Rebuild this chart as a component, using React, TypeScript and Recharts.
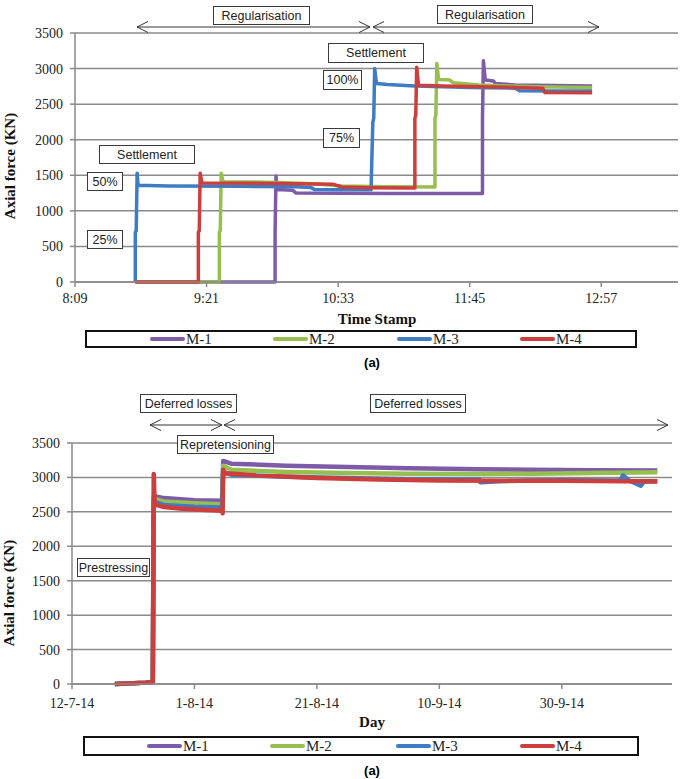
import { LineChart, Line, XAxis, YAxis, CartesianGrid } from "recharts";

const seriesNames = ["M-1", "M-2", "M-3", "M-4"];
const seriesColors = ["#7E5BA8", "#97BF4F", "#3E7DC6", "#CC3F3C"];

// top chart: [time stamp, axial force kN]
const m1Time: [string, number][] = [
  ["8:42", 0], ["9:58.5", 0], ["9:58.5", 700], ["9:59", 1490], ["9:59.5", 1300], ["10:08", 1290],
  ["10:10", 1250], ["11:00", 1245], ["11:52", 1245], ["11:52", 2300], ["11:52.5", 3110],
  ["11:53.5", 2840], ["11:58", 2825], ["11:59", 2790], ["12:10", 2770], ["12:52", 2755],
];
const m2Time: [string, number][] = [
  ["8:42", 0], ["9:28", 0], ["9:28", 700], ["9:28.5", 720], ["9:29", 1530], ["9:30", 1410],
  ["10:00", 1400], ["10:20", 1380], ["10:35", 1350], ["11:00", 1340], ["11:26", 1335],
  ["11:26", 2300], ["11:26.5", 2350], ["11:27", 3070], ["11:28", 2845], ["11:34", 2840],
  ["11:36", 2800], ["11:50", 2770], ["12:20", 2745], ["12:52", 2735],
];
const m3Time: [string, number][] = [
  ["8:42", 0], ["8:42", 700], ["8:42.5", 720], ["8:43", 1530], ["8:43.5", 1360], ["9:00", 1350],
  ["9:40", 1345], ["10:10", 1340], ["10:18", 1330], ["10:20", 1300], ["10:51", 1295],
  ["10:52", 2250], ["10:52.5", 2300], ["10:53", 3000], ["10:54", 2790], ["11:00", 2775],
  ["11:15", 2755], ["11:45", 2735], ["12:10", 2725], ["12:12", 2690], ["12:30", 2685], ["12:52", 2685],
];
const m4Time: [string, number][] = [
  ["8:42", 0], ["9:16.5", 0], ["9:16.5", 700], ["9:17", 720], ["9:17.5", 1530], ["9:18.5", 1390],
  ["10:00", 1385], ["10:30", 1375], ["10:35", 1335], ["10:50", 1325], ["11:15", 1320],
  ["11:15", 2300], ["11:15.5", 2350], ["11:16", 3020], ["11:17", 2765], ["11:30", 2755],
  ["11:50", 2745], ["12:10", 2735], ["12:25", 2725], ["12:26", 2665], ["12:52", 2660],
];
const timeTicks = ["8:09", "9:21", "10:33", "11:45", "12:57"];
const timeDomain = ["8:09", "13:39"];

// bottom chart: [days since 12-7-14, axial force kN]
const m1Day: [number, number][] = [
  [7, 0], [10, 10], [12, 20], [13.2, 30], [13.35, 2730], [15, 2700], [20, 2670], [24.5, 2660],
  [24.7, 3240], [26, 3200], [35, 3170], [45, 3150], [55, 3135], [66.5, 3120], [75, 3110],
  [85, 3105], [95.6, 3100],
];
const m2Day: [number, number][] = [
  [7, 0], [10, 10], [12, 20], [13.2, 30], [13.35, 2690], [15, 2650], [20, 2625], [24.5, 2610],
  [24.7, 3170], [26, 3110], [35, 3080], [45, 3065], [55, 3055], [66, 3050], [75, 3055],
  [85, 3065], [95.6, 3075],
];
const m3Day: [number, number][] = [
  [7, 0], [10, 10], [12, 20], [13.2, 30], [13.35, 2650], [15, 2600], [20, 2575], [24.5, 2565],
  [24.7, 3080], [26, 3040], [35, 3010], [45, 2990], [55, 2975], [66.5, 2970], [66.7, 2930],
  [70, 2945], [75, 2955], [80, 2960], [89.5, 2955], [90, 3030], [91, 2955], [92.9, 2880],
  [93.4, 2940], [95.6, 2940],
];
const m4Day: [number, number][] = [
  [7, 0], [10, 10], [12, 20], [13.2, 30], [13.35, 3050], [13.5, 2610], [15, 2570], [18, 2545],
  [21, 2530], [24.5, 2515], [24.6, 2480], [24.7, 3110], [25, 3060], [30, 3030], [40, 2990],
  [50, 2970], [60, 2955], [70, 2950], [80, 2950], [90, 2945], [95.6, 2945],
];
const dayTicks = [0, 20, 40, 60, 80];
const dayLabels = ["12-7-14", "1-8-14", "21-8-14", "10-9-14", "30-9-14"];

const forceTicks = [0, 500, 1000, 1500, 2000, 2500, 3000, 3500];

const toMin = (s: string) => {
  const [h, m] = s.split(":").map(Number);
  return h * 60 + m;
};
const fmtTime = (v: number) => `${Math.floor(v / 60)}:${String(Math.round(v % 60)).padStart(2, "0")}`;

const serif = '"Liberation Serif", "Times New Roman", serif';
const sans = '"Liberation Sans", Arial, sans-serif';
const grey = "#8a8a8a";

const Box = ({ x, y, w, h, text }: { x: number; y: number; w: number; h: number; text: string }) => (
  <div
    style={{
      position: "absolute", left: x, top: y, width: w, height: h, boxSizing: "border-box",
      border: "1px solid #3a3a3a", background: "#fff", display: "flex", alignItems: "center",
      justifyContent: "center", fontFamily: sans, fontSize: 12.5, color: "#222",
    }}
  >
    {text}
  </div>
);

const Arrow = ({ x1, x2, y }: { x1: number; x2: number; y: number }) => (
  <g stroke="#333" strokeWidth={1} fill="none">
    <line x1={x1} y1={y} x2={x2} y2={y} />
    <polyline points={`${x1 + 11},${y - 5.5} ${x1},${y} ${x1 + 11},${y + 5.5}`} />
    <polyline points={`${x2 - 11},${y - 5.5} ${x2},${y} ${x2 - 11},${y + 5.5}`} />
  </g>
);

const Legend = ({ x, y, w, h, items }: { x: number; y: number; w: number; h: number; items: number[] }) => (
  <div
    style={{
      position: "absolute", left: x, top: y, width: w, height: h, boxSizing: "border-box",
      border: "2px solid #111", background: "#fff",
    }}
  >
    {seriesNames.map((n, i) => (
      <div key={n} style={{ position: "absolute", left: items[i] - x, top: 0, height: h - 4, display: "flex", alignItems: "center" }}>
        <div style={{ width: 35, height: 4, borderRadius: 2, background: seriesColors[i] }} />
        <span style={{ fontFamily: serif, fontSize: 15, color: "#222", marginLeft: 1 }}>{n}</span>
      </div>
    ))}
  </div>
);

const XTick = ({ x, y, payload, fmt }: any) => (
  <text x={x} y={y} dy={10} textAnchor="middle" fill="#222" fontFamily={serif} fontSize={14}>
    {fmt(payload.value)}
  </text>
);
const YTick = ({ x, y, payload }: any) => (
  <text x={x} y={y} dy={5} textAnchor="end" fill="#222" fontFamily={serif} fontSize={14}>
    {payload.value}
  </text>
);

const ForceChart = ({
  top, height, left, right, bottom, series, domain, ticks, fmt, tickMargin, width,
}: {
  top: number; height: number; left: number; right: number; bottom: number;
  series: [number, number][][]; domain: number[]; ticks: number[]; fmt: (v: number) => string;
  tickMargin: number; width: number;
}) => (
  <div style={{ position: "absolute", left: 0, top }}>
    <LineChart width={685} height={height} margin={{ top: 33, right, bottom, left: 0 }}>
      <CartesianGrid vertical={false} stroke={grey} strokeWidth={1.5} />
      <XAxis
        dataKey="x" type="number" domain={domain} ticks={ticks} allowDataOverflow
        height={30} tickSize={5} tickMargin={tickMargin} stroke={grey} strokeWidth={1.5}
        tick={<XTick fmt={fmt} />}
      />
      <YAxis
        domain={[0, 3500]} ticks={forceTicks} width={left} tickSize={5} tickMargin={7}
        stroke={grey} strokeWidth={1.5} tick={<YTick />}
      />
      {series.map((pts, i) => (
        <Line
          key={seriesNames[i]} name={seriesNames[i]} data={pts.map(([x, y]) => ({ x, y }))} dataKey="y"
          type="linear" stroke={seriesColors[i]} strokeWidth={width} dot={false} isAnimationActive={false}
          strokeLinejoin="round"
        />
      ))}
    </LineChart>
  </div>
);

const title = (text: string, cx: number, cy: number, rotate = false) => (
  <div
    style={{
      position: "absolute", left: cx, top: cy, transform: `translate(-50%, -50%)${rotate ? " rotate(-90deg)" : ""}`,
      fontFamily: serif, fontWeight: "bold", fontSize: 15, color: "#111", whiteSpace: "nowrap",
    }}
  >
    {text}
  </div>
);

export default function App() {
  const timeSeries = [m1Time, m2Time, m3Time, m4Time].map((s) => s.map(([t, v]) => [toMin(t), v] as [number, number]));
  const daySeries = [m1Day, m2Day, m3Day, m4Day];
  return (
    <div style={{ position: "absolute", left: 0, top: 0, width: 685, height: 779, background: "#fff", overflow: "hidden" }}>
      <ForceChart
        top={0} height={330} left={75} right={7} bottom={18} series={timeSeries} width={3.5}
        domain={timeDomain.map(toMin)} ticks={timeTicks.map(toMin)} fmt={fmtTime} tickMargin={6}
      />
      <ForceChart
        top={410} height={320} left={72} right={13} bottom={16} series={daySeries} width={4.5}
        domain={[0, 98]} ticks={dayTicks} fmt={(v) => dayLabels[dayTicks.indexOf(v)] ?? ""} tickMargin={9}
      />

      {title("Axial force (KN)", 10, 166, true)}
      {title("Time Stamp", 377, 319)}
      {title("Axial force (KN)", 9, 593, true)}
      {title("Day", 372, 722)}

      <svg width={685} height={779} style={{ position: "absolute", left: 0, top: 0, pointerEvents: "none" }}>
        <Arrow x1={137} x2={370} y={27} />
        <Arrow x1={373} x2={599} y={27} />
        <Arrow x1={150} x2={222} y={425} />
        <Arrow x1={224} x2={668} y={425} />
      </svg>

      <Box x={213} y={6} w={97} h={19} text="Regularisation" />
      <Box x={437} y={5} w={96} h={19} text="Regularisation" />
      <Box x={328} y={43} w={96} h={20} text="Settlement" />
      <Box x={323} y={70} w={39} h={20} text="100%" />
      <Box x={323} y={128} w={37} h={20} text="75%" />
      <Box x={99} y={145} w={96} h={19} text="Settlement" />
      <Box x={87} y={172} w={36} h={19} text="50%" />
      <Box x={87} y={230} w={36} h={19} text="25%" />

      <Box x={140} y={394} w={97} h={19} text="Deferred losses" />
      <Box x={370} y={394} w={96} h={19} text="Deferred losses" />
      <Box x={177} y={435} w={97} h={19} text="Repretensioning" />
      <Box x={77} y={558} w={73} h={19} text="Prestressing" />

      <Legend x={85} y={330} w={552} h={18} items={[148, 271, 395, 518]} />
      <Legend x={83} y={736} w={556} h={20} items={[145, 268, 394, 518]} />

      <div style={{ position: "absolute", left: 372, top: 362, transform: "translate(-50%, -50%)", fontFamily: sans, fontWeight: "bold", fontSize: 13 }}>(a)</div>
      <div style={{ position: "absolute", left: 372, top: 770, transform: "translate(-50%, -50%)", fontFamily: sans, fontWeight: "bold", fontSize: 13 }}>(a)</div>
    </div>
  );
}
